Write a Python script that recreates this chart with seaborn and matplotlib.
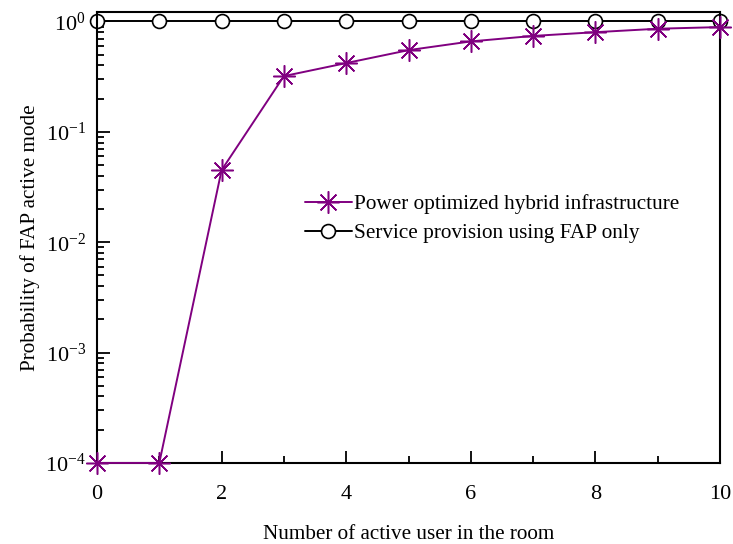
import numpy as np
import pandas as pd
import seaborn as sns
import matplotlib.pyplot as plt
from matplotlib.ticker import LogLocator, MultipleLocator

users = [0, 1, 2, 3, 4, 5, 6, 7, 8, 9, 10]
p_hybrid = [1e-4, 1e-4, 0.045, 0.32, 0.42, 0.55, 0.66, 0.74, 0.80, 0.86, 0.89]
p_fap_only = [1.0] * 11
series_names = ['Power optimized hybrid infrastructure', 'Service provision using FAP only']

df_hybrid = pd.DataFrame({'users': users, 'prob': p_hybrid})
df_fap = pd.DataFrame({'users': users, 'prob': p_fap_only})

sns.set_style('white')
plt.rcParams['font.family'] = ['Liberation Serif', 'DejaVu Serif']
plt.rcParams['mathtext.fontset'] = 'stix'
plt.rcParams['text.color'] = 'black'
plt.rcParams['axes.labelcolor'] = 'black'
plt.rcParams['xtick.color'] = 'black'
plt.rcParams['ytick.color'] = 'black'

fig = plt.figure(figsize=(7.33, 5.44), dpi=100)
ax = fig.add_axes([0.1323, 0.149, 0.85, 0.829])

# asterisk (line-art) markers
sns.lineplot(data=df_hybrid, x='users', y='prob', color='#800080',
             marker=(8, 2, 0), markersize=16, markeredgewidth=1.1,
             markeredgecolor='#800080', linewidth=1.4,
             label=series_names[0], ax=ax, clip_on=False, zorder=3)
# open circles
sns.lineplot(data=df_fap, x='users', y='prob', color='black',
             marker='o', markersize=10, markerfacecolor='white',
             markeredgecolor='black', markeredgewidth=1.2, linewidth=1.4,
             label=series_names[1], ax=ax, clip_on=False, zorder=2)

ax.set_yscale('log')
ax.set_ylim(1e-4, 1.22)
ax.set_xlim(0, 10)
ax.xaxis.set_major_locator(MultipleLocator(2))
ax.xaxis.set_minor_locator(MultipleLocator(1))
ax.yaxis.set_major_locator(LogLocator(base=10, numticks=10))
ax.yaxis.set_minor_locator(LogLocator(base=10, subs=np.arange(2, 10), numticks=20))
ax.tick_params(which='both', direction='in', bottom=True, left=True, top=False, right=False,
               labelsize=16, width=1.3, color='black')
ax.tick_params(which='major', length=9)
ax.tick_params(which='minor', length=5)
ax.tick_params(axis='x', which='major', pad=16)
ax.tick_params(axis='y', which='major', pad=8)
for s in ax.spines.values():
    s.set_linewidth(1.5)
    s.set_color('black')

ax.set_xlabel('Number of active user in the room', fontsize=15.2, labelpad=15)
ax.set_ylabel('Probability of FAP active mode', fontsize=15.2, labelpad=4)

ax.legend(loc='upper left', bbox_to_anchor=(0.32, 0.615),
          frameon=False, fontsize=15.3, handlelength=2.2, handletextpad=0.1,
          labelspacing=0.45, borderaxespad=0)

fig.savefig('out.png', dpi=100)
